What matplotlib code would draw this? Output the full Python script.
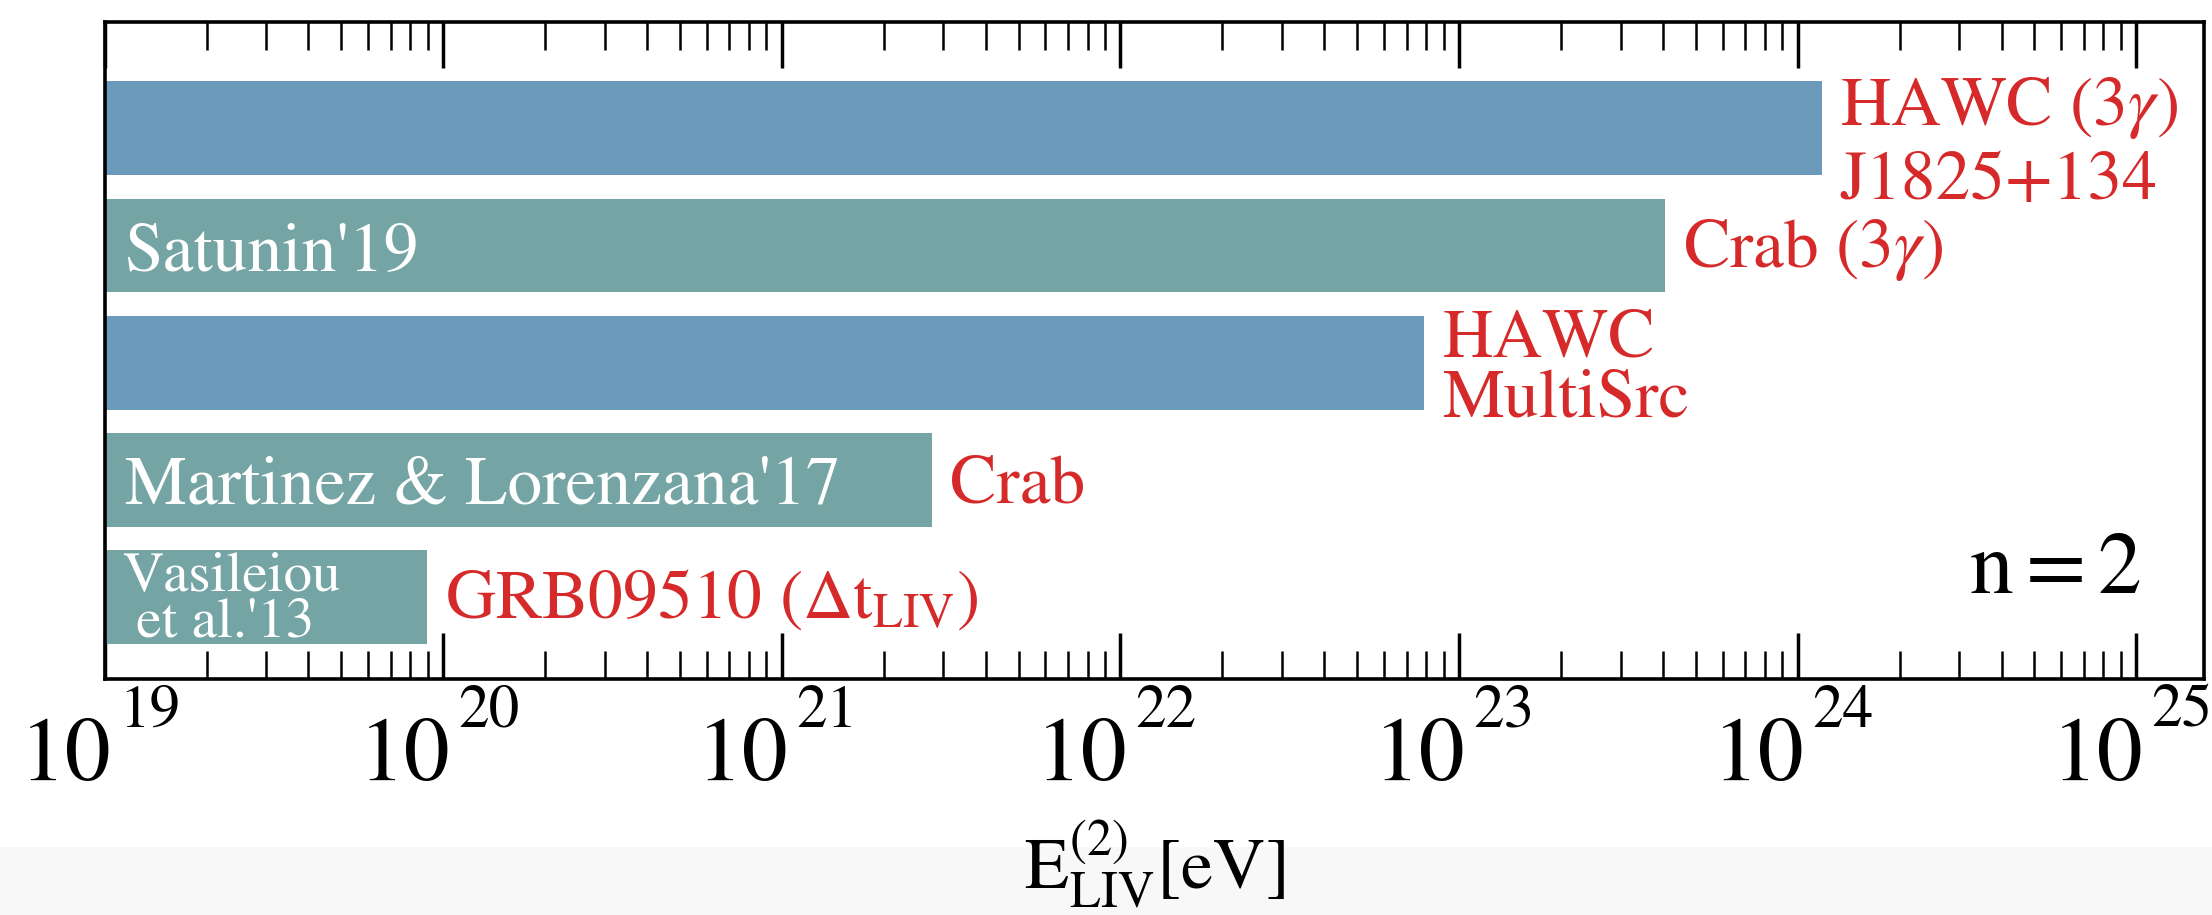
import matplotlib
matplotlib.use("Agg")
import matplotlib.pyplot as plt
from matplotlib.patches import Rectangle
from matplotlib.ticker import LogLocator, FixedLocator, NullFormatter

plt.rcParams['font.family'] = ['STIXGeneral', 'Liberation Serif', 'DejaVu Serif']
plt.rcParams['mathtext.fontset'] = 'stix'

# Lower limits on the quadratic LIV energy scale [eV], top to bottom
limits = [1.18e24, 4.06e23, 7.9e22, 2.77e21, 8.97e19]
experiment_labels = [["HAWC $(3\\gamma)$", "J1825+134"],
                     ["Crab $(3\\gamma)$"],
                     ["HAWC", "MultiSrc"],
                     ["Crab"],
                     ["GRB09510 $(\\Delta\\mathrm{t}_{\\mathrm{LIV}})$"]]
author_labels = ["", "Satunin'19", "", "Martinez & Lorenzana'17",
                 ["Vasileiou", " et al.'13"]]
bar_colors = ["#6c9abb", "#74a5a4", "#6c9abb", "#74a5a4", "#74a5a4"]
tick_exponents = [19, 20, 21, 22, 23, 24, 25]

red = "#d62a2a"
xmin, xmax = 1e19, 10 ** 25.2
ypos = [4, 3, 2, 1, 0]

fig = plt.figure(figsize=(22.12, 9.15), dpi=100)
fig.patches.append(Rectangle((0, 0), 1, 68 / 915, transform=fig.transFigure,
                             facecolor="#f8f8f8", edgecolor="none", zorder=-10))
ax = fig.add_axes([104.6 / 2212, 1 - 679 / 915, (2204 - 104.6) / 2212, (679 - 22) / 915])

ax.barh(ypos, [v - xmin for v in limits], left=xmin, height=0.8,
        color=bar_colors, edgecolor="none", zorder=2)

ax.set_xscale("log")
ax.set_xlim(xmin, xmax)
ax.set_ylim(-0.697, 4.907)
ax.set_yticks([])

ax.xaxis.set_major_locator(FixedLocator([10.0 ** e for e in tick_exponents]))
ax.xaxis.set_major_formatter(NullFormatter())
ax.xaxis.set_minor_locator(LogLocator(base=10, subs=range(2, 10), numticks=50))
ax.xaxis.set_minor_formatter(NullFormatter())
ax.tick_params(axis="x", which="both", direction="in", top=True, bottom=True, zorder=3)
ax.tick_params(axis="x", which="major", length=33, width=2.5)
ax.tick_params(axis="x", which="minor", length=20, width=1.8)
for sp in ax.spines.values():
    sp.set_linewidth(2.6)
    sp.set_zorder(4)

# Decade labels: large "10" with a raised exponent beside each major tick
xlab_tr = ax.get_xaxis_transform()
for e in tick_exponents:
    ax.annotate("10", xy=(10.0 ** e, 0), xycoords=xlab_tr, xytext=(5, -73),
                textcoords="offset points", fontsize=66, ha="right", va="baseline",
                annotation_clip=False)
    ax.annotate(str(e), xy=(10.0 ** e, 0), xycoords=xlab_tr, xytext=(10.5, -34.5),
                textcoords="offset points", fontsize=44, ha="left", va="baseline",
                annotation_clip=False)

# Red experiment labels just right of each bar, one line at a time
line_baselines = [[0.028, -0.603], [-0.183], [0.058, -0.460], [-0.194], [-0.177]]
for y, val, lines, offs in zip(ypos, limits, experiment_labels, line_baselines):
    for txt, dy in zip(lines, offs):
        ax.annotate(txt, xy=(val, y + dy), xytext=(13, 0), textcoords="offset points",
                    color=red, fontsize=50, va="baseline", ha="left", zorder=5)

# White author labels inside the bars
author_baselines = [None, -0.215, None, -0.196, [0.056, -0.336]]
for y, lab, base in zip(ypos, author_labels, author_baselines):
    if not lab:
        continue
    if isinstance(lab, list):
        for txt, b in zip(lab, base):
            ax.text(0.0085, y + b, txt, transform=ax.get_yaxis_transform(),
                    color="white", fontsize=41, va="baseline", ha="left", zorder=5)
    else:
        ax.text(0.0095, y + base, lab, transform=ax.get_yaxis_transform(),
                color="white", fontsize=50, va="baseline", ha="left", zorder=5)

ax.text(0.970, 0.039, r"$\mathrm{n=2}$", transform=ax.get_yaxis_transform(),
        fontsize=63, ha="right", va="baseline", zorder=5)

ax.set_xlabel(r"$\mathrm{E}_{\mathrm{LIV}}^{(2)}[\mathrm{eV}]$", fontsize=52)
ax.xaxis.set_label_coords(0.5, -0.212)

fig.savefig("out.png", dpi=100)
